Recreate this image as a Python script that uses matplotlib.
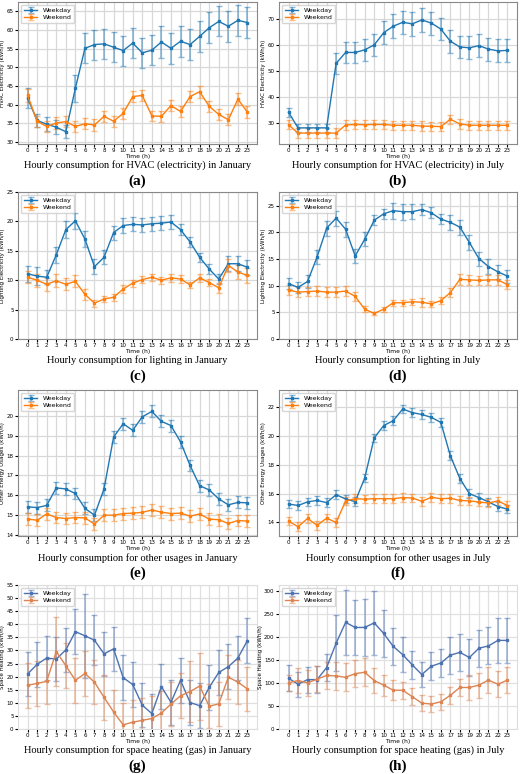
import numpy as np
import matplotlib.pyplot as plt

hours = list(range(24))

# (a) HVAC electricity January
a_wd = [41.8, 35.8, 34.8, 34.0, 32.8, 44.4, 55.1, 56.1, 56.3, 55.4, 54.5, 56.5, 53.9, 54.6, 56.8, 55.1, 57.0, 56.1, 58.3, 60.6, 62.3, 61.0, 62.6, 62.0]
a_wd_err = [2.6, 1.7, 1.8, 1.8, 1.8, 3.6, 4.0, 4.0, 4.0, 4.0, 4.0, 4.0, 4.0, 4.0, 4.2, 4.2, 4.2, 4.2, 4.2, 4.2, 4.0, 4.2, 4.2, 4.2]
a_we = [42.5, 35.6, 34.2, 35.1, 35.5, 34.2, 34.9, 34.6, 36.9, 35.6, 37.7, 42.2, 42.5, 37.0, 36.9, 39.8, 38.2, 42.2, 43.5, 39.6, 37.4, 36.0, 41.5, 38.0]
a_we_err = [1.8, 1.5, 1.5, 1.5, 1.5, 1.5, 1.5, 1.5, 1.5, 1.5, 1.5, 1.5, 1.5, 1.4, 1.4, 1.5, 1.5, 1.5, 1.6, 1.5, 1.5, 1.5, 1.6, 1.6]

# (b) HVAC electricity July
b_wd = [34.2, 28.2, 28.2, 28.2, 28.2, 53.0, 57.2, 57.2, 58.2, 60.1, 64.8, 67.3, 68.8, 68.2, 69.7, 68.5, 66.2, 61.5, 59.3, 59.0, 59.8, 58.5, 57.8, 58.0]
b_wd_err = [1.8, 1.5, 1.5, 1.5, 1.5, 4.0, 4.2, 4.2, 4.3, 4.3, 4.4, 4.5, 4.5, 4.5, 4.5, 4.4, 4.4, 4.4, 4.4, 4.4, 4.4, 4.4, 4.4, 4.3]
b_we = [29.4, 26.2, 26.2, 26.2, 26.2, 26.2, 29.3, 29.5, 29.4, 29.5, 29.5, 29.2, 29.2, 29.2, 28.9, 28.8, 28.7, 31.5, 29.7, 29.2, 29.2, 29.2, 29.2, 29.2]
b_we_err = [1.8] * 24

# (c) lighting January
c_wd = [11.1, 10.7, 10.5, 14.3, 18.6, 20.1, 17.0, 12.3, 13.9, 18.1, 19.3, 19.5, 19.4, 19.6, 19.7, 19.9, 18.6, 16.5, 13.9, 11.9, 10.2, 12.8, 12.8, 12.2]
c_wd_err = [1.4, 1.6, 1.2, 1.3, 1.4, 1.4, 1.3, 1.3, 1.2, 1.2, 1.2, 1.2, 1.2, 1.2, 1.2, 1.2, 0.9, 0.8, 0.8, 0.8, 0.9, 1.3, 1.3, 1.3]
c_we = [10.5, 10.0, 9.3, 9.9, 9.3, 9.8, 7.6, 6.1, 6.8, 7.1, 8.5, 9.5, 10.1, 10.5, 10.0, 10.4, 10.2, 9.2, 10.4, 9.6, 8.7, 12.5, 11.4, 10.8]
c_we_err = [1.0, 1.1, 1.1, 1.1, 1.0, 1.0, 0.9, 0.6, 0.5, 0.6, 0.6, 0.6, 0.6, 0.6, 0.6, 0.7, 0.6, 0.5, 0.7, 0.6, 0.8, 1.1, 1.2, 1.2]

# (d) lighting July
d_wd = [10.4, 9.7, 10.8, 15.4, 20.8, 22.7, 20.6, 15.6, 18.7, 22.3, 23.5, 24.1, 23.9, 23.9, 24.3, 23.7, 22.5, 21.9, 21.0, 18.1, 15.1, 13.6, 12.6, 11.8]
d_wd_err = [1.0, 1.0, 1.2, 1.4, 1.4, 1.4, 1.4, 1.3, 1.3, 0.9, 0.9, 1.5, 1.5, 1.4, 1.0, 1.0, 0.9, 1.4, 1.4, 1.4, 1.3, 1.4, 1.3, 1.2]
d_we = [9.2, 8.8, 8.9, 9.0, 8.8, 8.8, 9.0, 8.0, 5.6, 4.8, 5.6, 6.8, 6.8, 7.0, 6.9, 6.6, 7.2, 8.7, 11.2, 11.1, 11.0, 11.1, 11.1, 10.2]
d_we_err = [0.9, 0.9, 0.9, 0.9, 0.9, 1.0, 1.0, 0.8, 0.6, 0.3, 0.5, 0.6, 0.6, 0.6, 0.8, 0.6, 0.6, 0.8, 1.0, 1.0, 0.9, 0.9, 0.9, 0.9]

# (e) other usages January
e_wd = [15.42, 15.38, 15.49, 16.37, 16.32, 16.09, 15.34, 15.0, 16.32, 18.93, 19.6, 19.27, 19.95, 20.22, 19.72, 19.51, 18.69, 17.5, 16.48, 16.27, 15.82, 15.52, 15.64, 15.62]
e_we = [14.81, 14.74, 15.06, 14.88, 14.83, 14.88, 14.86, 14.55, 15.0, 15.0, 15.08, 15.1, 15.14, 15.26, 15.15, 15.08, 15.1, 14.95, 15.06, 14.8, 14.77, 14.58, 14.73, 14.7]
e_err = [0.3] * 24

# (f) other usages July
f_wd = [15.28, 15.18, 15.43, 15.53, 15.38, 15.93, 15.63, 15.45, 17.08, 19.87, 20.73, 21.07, 21.88, 21.63, 21.5, 21.3, 20.95, 18.63, 17.05, 16.0, 15.73, 15.43, 15.1, 14.93]
f_we = [14.1, 13.7, 14.28, 13.8, 14.3, 14.0, 15.5, 15.65, 15.62, 15.65, 15.65, 15.65, 15.73, 15.7, 15.47, 15.75, 15.65, 15.68, 15.53, 15.5, 15.42, 15.35, 15.5, 15.17]
f_err = [0.3] * 24

# (g) space heating January
g_wd = [21.0, 24.7, 27.1, 26.7, 30.2, 37.2, 35.6, 33.9, 28.7, 30.6, 19.6, 17.0, 9.1, 5.9, 16.2, 10.2, 18.6, 10.1, 8.9, 15.9, 21.6, 23.8, 27.1, 33.8]
g_wd_err = [8.5, 8.5, 8.5, 8.5, 8.5, 8.5, 16.0, 9.5, 8.5, 8.5, 8.5, 8.5, 8.5, 7.5, 8.5, 8.5, 8.5, 8.5, 8.5, 8.5, 8.5, 8.5, 8.5, 8.5]
g_we = [16.7, 17.4, 18.2, 29.6, 24.2, 18.6, 21.2, 17.9, 12.1, 6.5, 1.6, 2.6, 3.3, 4.0, 6.1, 9.5, 12.7, 14.3, 16.4, 8.7, 9.6, 19.8, 17.9, 15.3]
g_we_err = [8.5, 8.5, 8.5, 13.0, 8.5, 8.5, 8.5, 8.5, 8.5, 8.5, 8.5, 8.5, 8.5, 8.5, 8.5, 8.5, 8.5, 11.5, 12.8, 8.5, 8.5, 8.5, 8.5, 8.5]

# (h) space heating July
h_wd = [110, 97, 107, 107, 133, 186, 231, 220, 220, 230, 207, 179, 161, 139, 118, 136, 143, 160, 166, 155, 175, 180, 192, 192]
h_wd_err = [28, 27, 28, 30, 30, 60, 70, 60, 62, 70, 50, 40, 38, 30, 27, 30, 30, 40, 40, 40, 40, 40, 48, 48]
h_we = [100, 105, 100, 108, 116, 115, 112, 120, 123, 105, 95, 84, 84, 70, 56, 54, 59, 73, 90, 90, 95, 106, 97, 106]
h_we_err = [18, 28, 28, 28, 30, 30, 30, 30, 30, 28, 23, 22, 18, 18, 18, 18, 17, 18, 18, 27, 27, 28, 28, 28]

panels = [
    (a_wd, a_wd_err, a_we, a_we_err, (29.5, 67.5), np.arange(30, 66, 5), 'HVAC Electricity (kWh/h)', 'Hourly consumption for HVAC (electricity) in January', '(a)'),
    (b_wd, b_wd_err, b_we, b_we_err, (22, 76.6), np.arange(30, 71, 10), 'HVAC Electricity (kWh/h)', 'Hourly consumption for HVAC (electricity) in July', '(b)'),
    (c_wd, c_wd_err, c_we, c_we_err, (0, 25), np.arange(0, 26, 5), 'Lighting Electricity (kWh/h)', 'Hourly consumption for lighting in January', '(c)'),
    (d_wd, d_wd_err, d_we, d_we_err, (0, 27.6), np.arange(0, 26, 5), 'Lighting Electricity (kWh/h)', 'Hourly consumption for lighting in July', '(d)'),
    (e_wd, e_err, e_we, e_err, (13.95, 21.3), np.arange(14, 21, 1), 'Other Energy Usages (kWh/h)', 'Hourly consumption for other usages in January', '(e)'),
    (f_wd, f_err, f_we, f_err, (13.06, 23.2), np.arange(14, 23, 2), 'Other Energy Usages (kWh/h)', 'Hourly consumption for other usages in July', '(f)'),
    (g_wd, g_wd_err, g_we, g_we_err, (0, 55), np.arange(0, 56, 5), 'Space Heating (kWh/h)', 'Hourly consumption for space heating (gas) in January', '(g)'),
    (h_wd, h_wd_err, h_we, h_we_err, (0, 312), np.arange(0, 301, 50), 'Space Heating (kWh/h)', 'Hourly consumption for space heating (gas) in July', '(h)'),
]

W, H = 520, 774
fig = plt.figure(figsize=(W / 100, H / 100), dpi=100)

# pixel boxes
cols = [(18, 257), (279, 517)]
rows = [(2, 144, 165, 181), (192, 339, 360, 376), (390, 536, 558, 573), (585, 729, 750, 766)]

for i, (wd, wde, we, wee, ylim, yt, ylab, cap, lab) in enumerate(panels):
    r, c = divmod(i, 2)
    x0, x1 = cols[c]
    y0, y1, ycap, ylab_y = rows[r]
    ax = fig.add_axes([x0 / W, 1 - y1 / H, (x1 - x0) / W, (y1 - y0) / H])
    sb = r == 3
    c1, c2 = ('#4c72b0', '#dd8452') if sb else ('#1f77b4', '#ff7f0e')
    for vals, err, col, name in [(wd, wde, c1, 'Weekday'), (we, wee, c2, 'Weekend')]:
        _, caps, bars = ax.errorbar(hours, vals, yerr=err, color=col, marker='s', markersize=2,
                                    lw=1, capsize=2.5, elinewidth=1.2, label=name)
        for cp in caps:
            cp.set_alpha(0.5)
        for b in bars:
            b.set_alpha(0.5)
    ax.set_ylim(*ylim)
    ax.set_xlim(-1, 24)
    ax.set_xticks(hours)
    ax.set_yticks(yt)
    ax.tick_params(labelsize=4, length=2, pad=1.2)
    ax.set_xlabel('Time (h)', fontsize=4.3, labelpad=0.5)
    ax.set_ylabel(ylab, fontsize=4, labelpad=1)
    ax.grid(True, color='#e0e0e0' if sb else '#d8d8d8', lw=0.9)
    ax.set_axisbelow(True)
    for s in ax.spines.values():
        s.set_color('#dddddd' if sb else '#888888')
        s.set_linewidth(0.8)
    ax.legend(loc='upper left', fontsize=4.5, handlelength=2.2, borderpad=0.4, labelspacing=0.3)
    xm = (x0 + x1) / 2 / W
    fig.text(xm, 1 - ycap / H, cap, ha='center', va='center', fontsize=7.5, family='Liberation Serif')
    fig.text(xm, 1 - ylab_y / H, lab, ha='center', va='center', fontsize=11, fontweight='bold', family='Liberation Serif')

fig.savefig('out.png', dpi=100)
